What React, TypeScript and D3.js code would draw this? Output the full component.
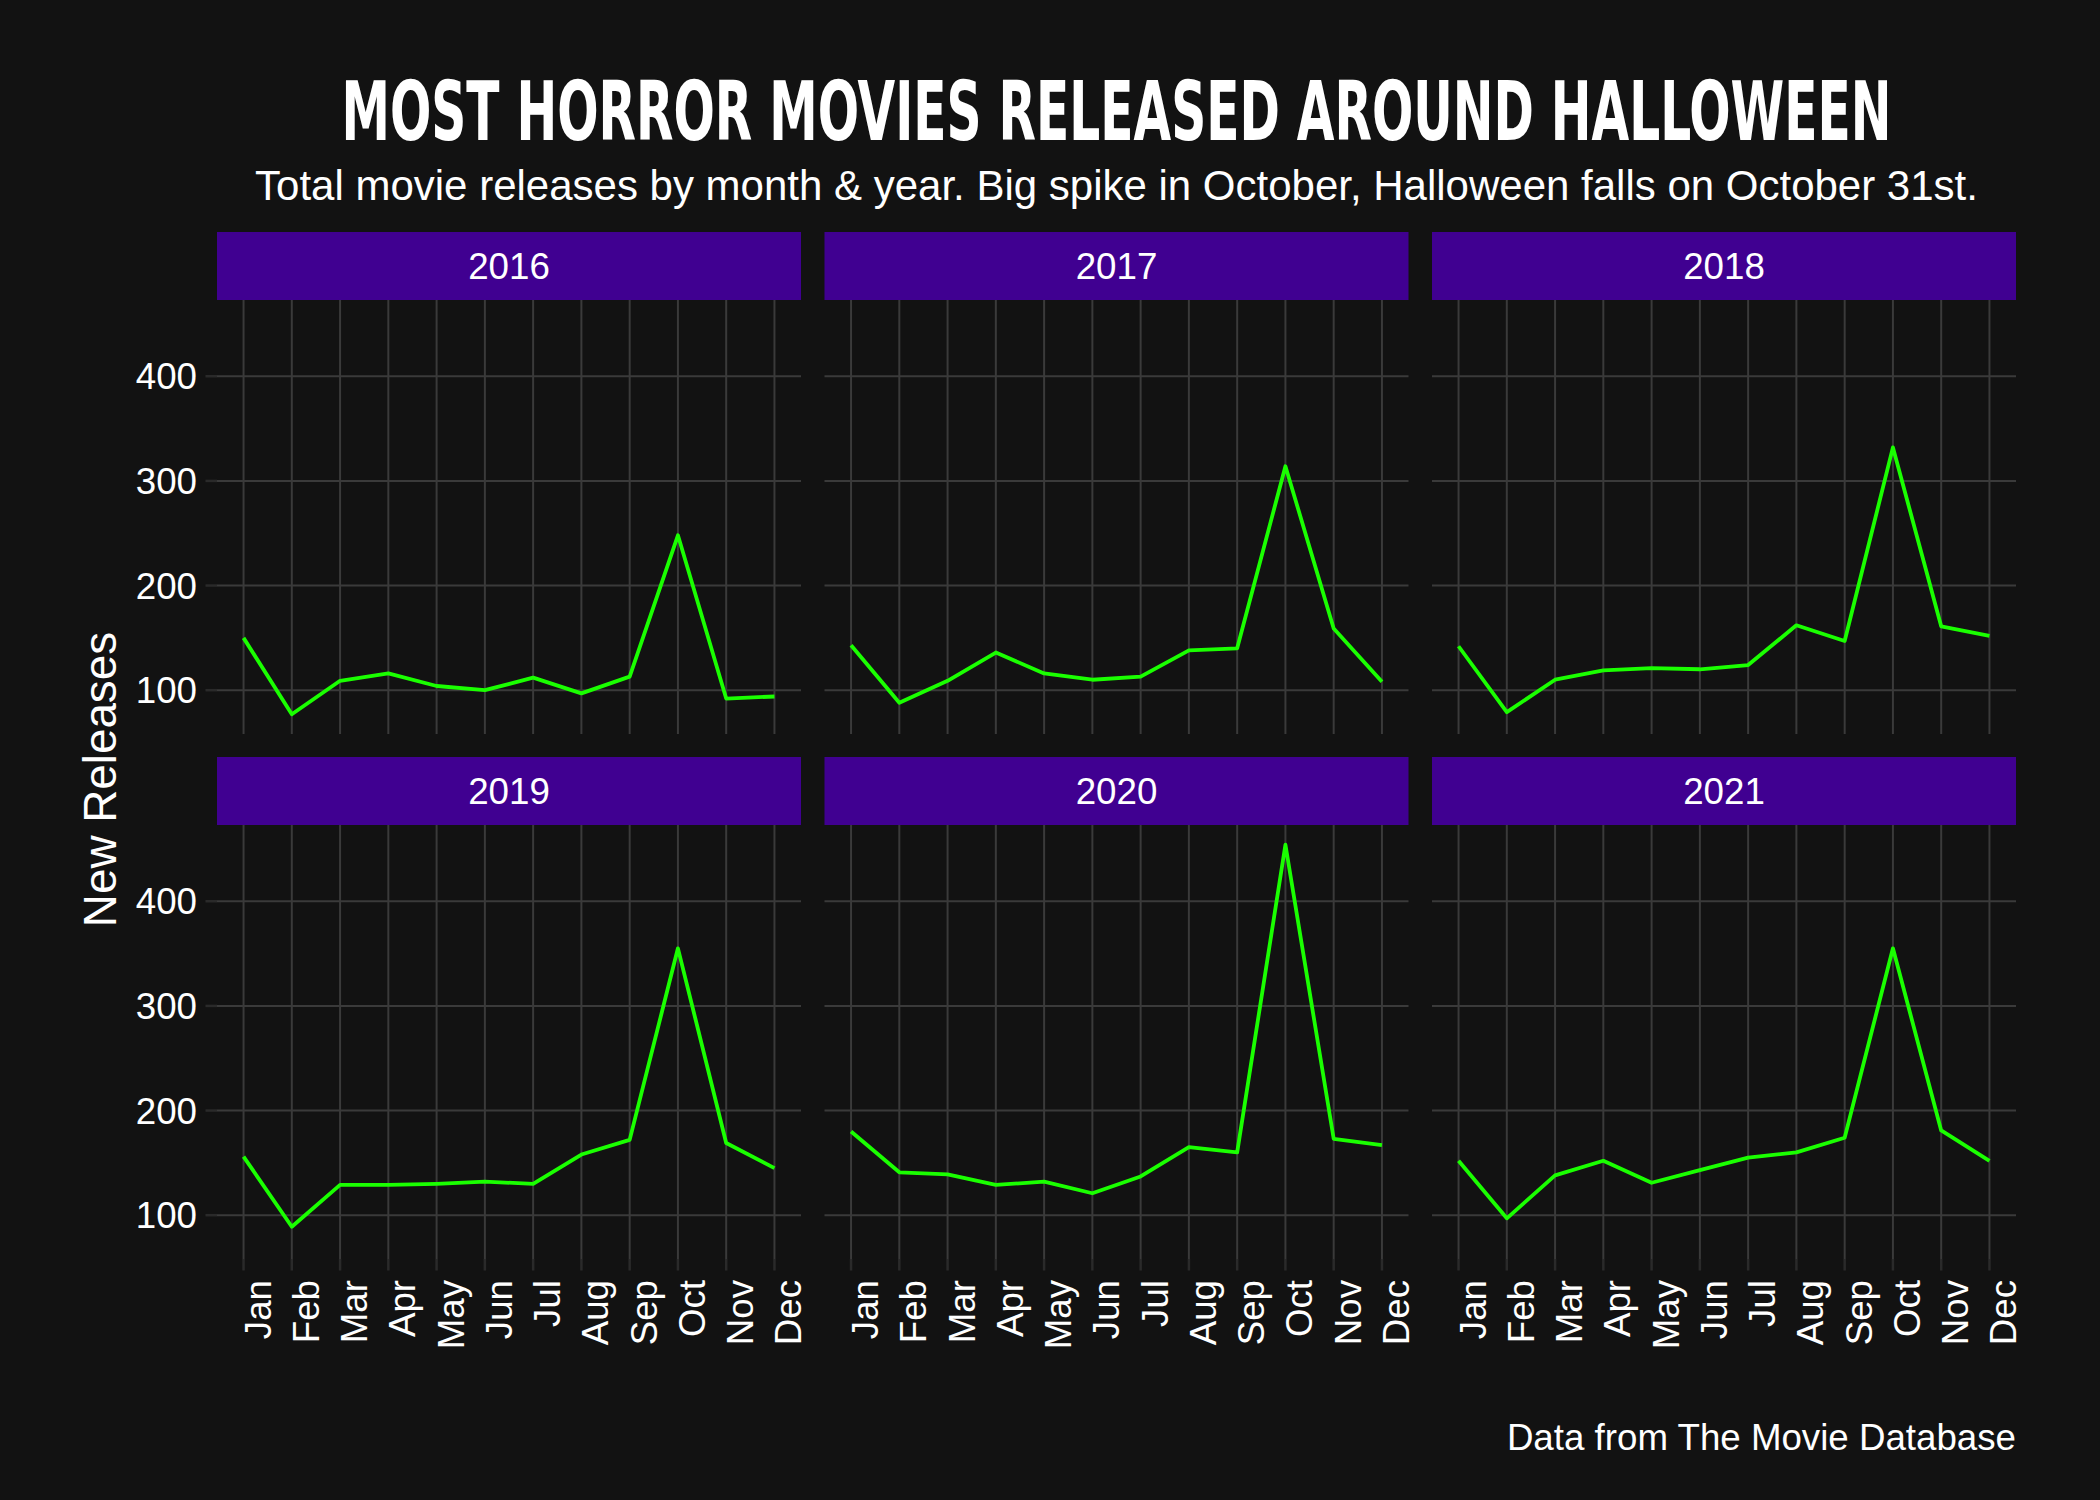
import React from "react";
import * as d3 from "d3";

const months = ["Jan", "Feb", "Mar", "Apr", "May", "Jun", "Jul", "Aug", "Sep", "Oct", "Nov", "Dec"];
const years = ["2016", "2017", "2018", "2019", "2020", "2021"];

// new horror releases per month
const releases2016 = [150, 77, 109, 116, 104, 100, 112, 97, 113, 248, 92, 94];
const releases2017 = [143, 88, 109, 136, 116, 110, 113, 138, 140, 314, 159, 108];
const releases2018 = [142, 79, 110, 119, 121, 120, 124, 162, 147, 332, 161, 152];
const releases2019 = [156, 89, 129, 129, 130, 132, 130, 158, 172, 355, 169, 145];
const releases2020 = [180, 141, 139, 129, 132, 121, 137, 165, 160, 454, 173, 167];
const releases2021 = [152, 97, 138, 152, 131, 143, 155, 160, 174, 355, 181, 152];

const yTicks = [100, 200, 300, 400];

const seriesByYear = [releases2016, releases2017, releases2018, releases2019, releases2020, releases2021];

const W = 2100;
const H = 1500;
const bg = "#121212";
const grid = "#3a3a3a";
const tickCol = "#2a2a2a";
const stripFill = "#400091";
const lineCol = "#1aff00";
const font = "'Liberation Sans', Arial, sans-serif";

// facet layout (3 columns x 2 rows)
const panelLeft = 217;
const panelW = 584;
const gapX = 23.5;
const stripH = 68;
const panelH = 434;
const rowTop = [232, 757];

export default function App() {
  const all = seriesByYear.flat();
  const lo = d3.min(all) ?? 0;
  const hi = d3.max(all) ?? 0;
  const pad = (hi - lo) * 0.05;

  const x = d3.scaleLinear().domain([-0.55, 11.55]).range([0, panelW]);
  const y = d3.scaleLinear().domain([lo - pad, hi + pad]).range([panelH, 0]);
  const line = d3
    .line<number>()
    .x((_, i) => x(i))
    .y((d) => y(d));

  const centerX = panelLeft + (3 * panelW + 2 * gapX) / 2;

  return (
    <div style={{ position: "absolute", left: 0, top: 0 }}>
      <svg width={W} height={H} viewBox={`0 0 ${W} ${H}`} style={{ display: "block" }}>
        <rect width={W} height={H} fill={bg} />

        {/* title (tall condensed, stand-in for the horror font) + subtitle */}
        <g transform={`translate(${centerX},140) scale(1,1.4)`}>
          <text
            x={0}
            y={0}
            textAnchor="middle"
            fill="#ffffff"
            fontFamily="'DejaVu Sans Condensed', 'DejaVu Sans', sans-serif"
            fontWeight={700}
            fontSize={58}
            textLength={1550}
            lengthAdjust="spacingAndGlyphs"
          >
            MOST HORROR MOVIES RELEASED AROUND HALLOWEEN
          </text>
        </g>
        <text x={centerX} y={200} textAnchor="middle" fill="#ffffff" fontFamily={font} fontSize={42}>
          Total movie releases by month &amp; year. Big spike in October, Halloween falls on October 31st.
        </text>

        {years.map((yr, k) => {
          const col = k % 3;
          const row = Math.floor(k / 3);
          const left = panelLeft + col * (panelW + gapX);
          const stripTop = rowTop[row];
          const top = stripTop + stripH;
          const values = seriesByYear[k];
          return (
            <g key={yr}>
              <rect x={left} y={stripTop} width={panelW} height={stripH} fill={stripFill} />
              <text
                x={left + panelW / 2}
                y={stripTop + stripH / 2 + 13}
                textAnchor="middle"
                fill="#ffffff"
                fontFamily={font}
                fontSize={36.7}
              >
                {yr}
              </text>
              <g transform={`translate(${left},${top})`}>
                {yTicks.map((t) => (
                  <line key={t} x1={0} x2={panelW} y1={y(t)} y2={y(t)} stroke={grid} strokeWidth={2} />
                ))}
                {months.map((m, i) => (
                  <line key={m} x1={x(i)} x2={x(i)} y1={0} y2={panelH} stroke={grid} strokeWidth={2} />
                ))}
                <path d={line(values) ?? ""} fill="none" stroke={lineCol} strokeWidth={3.8} strokeLinejoin="round" />

                {/* y axis on first column */}
                {col === 0 &&
                  yTicks.map((t) => (
                    <g key={t}>
                      <line x1={-11.5} x2={0} y1={y(t)} y2={y(t)} stroke={tickCol} strokeWidth={2.5} />
                      <text
                        x={-20}
                        y={y(t)}
                        dy="0.36em"
                        textAnchor="end"
                        fill="#ffffff"
                        fontFamily={font}
                        fontSize={36.7}
                      >
                        {t}
                      </text>
                    </g>
                  ))}

                {/* x axis on bottom row */}
                {row === 1 &&
                  months.map((m, i) => (
                    <g key={m}>
                      <line x1={x(i)} x2={x(i)} y1={panelH} y2={panelH + 11.5} stroke={tickCol} strokeWidth={2.5} />
                      <text
                        transform={`translate(${x(i) + 27},${panelH + 21}) rotate(-90)`}
                        textAnchor="end"
                        fill="#ffffff"
                        fontFamily={font}
                        fontSize={36.7}
                      >
                        {m}
                      </text>
                    </g>
                  ))}
              </g>
            </g>
          );
        })}

        {/* y axis title */}
        <text
          transform={`translate(116,${(rowTop[0] + stripH + rowTop[1] + stripH + panelH) / 2}) rotate(-90)`}
          textAnchor="middle"
          fill="#ffffff"
          fontFamily={font}
          fontSize={45.8}
        >
          New Releases
        </text>

        {/* caption */}
        <text x={panelLeft + 3 * panelW + 2 * gapX} y={1450} textAnchor="end" fill="#ffffff" fontFamily={font} fontSize={36.7}>
          Data from The Movie Database
        </text>
      </svg>
    </div>
  );
}
